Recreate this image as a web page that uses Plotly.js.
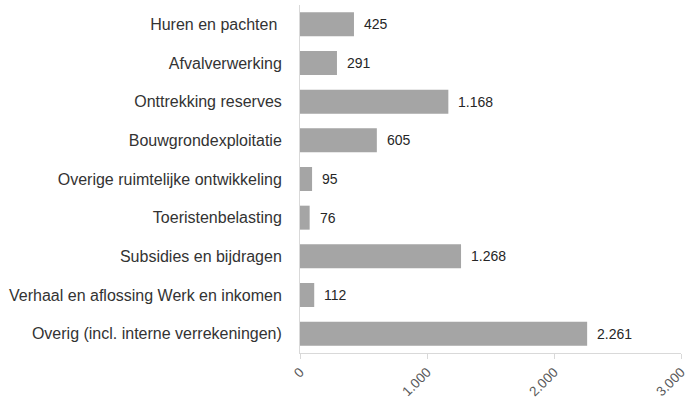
<!DOCTYPE html>
<html>
<head>
<meta charset="utf-8">
<script src="https://cdn.plot.ly/plotly-3.0.1.min.js"></script>
<style>html,body{margin:0;padding:0;background:#fff;}#chart{width:691px;height:403px;}</style>
</head>
<body>
<div id="chart"></div>
<script>
var categories = [
  "Huren en pachten\u00a0",
  "Afvalverwerking",
  "Onttrekking reserves",
  "Bouwgrondexploitatie",
  "Overige ruimtelijke ontwikkeling",
  "Toeristenbelasting",
  "Subsidies en bijdragen",
  "Verhaal en aflossing Werk en inkomen",
  "Overig (incl. interne verrekeningen)"
];
var values = [425, 291, 1168, 605, 95, 76, 1268, 112, 2261];
var tickValues = [0, 1000, 2000, 3000];
var tickLabels = ["0", "1.000", "2.000", "3.000"];

var fontFam = "Liberation Sans, Arial, sans-serif";

var trace = {
  type: "bar",
  orientation: "h",
  y: categories,
  x: values,
  marker: {color: "#a5a5a5"},
  hoverinfo: "none"
};

var annotations = values.map(function (v, i) {
  return {
    x: v, y: categories[i], xref: "x", yref: "y",
    text: v.toLocaleString("nl-NL"),
    showarrow: false, xanchor: "left", xshift: 8,
    font: {family: fontFam, size: 14, color: "#262626"}
  };
});

var layout = {
  width: 691, height: 403,
  margin: {l: 300, r: 10, t: 5, b: 50},
  paper_bgcolor: "#ffffff", plot_bgcolor: "#ffffff",
  showlegend: false,
  bargap: 0.38,
  xaxis: {
    range: [0, 3000],
    tickvals: tickValues, ticktext: tickLabels,
    tickangle: -45,
    showgrid: false, zeroline: false,
    showline: true, linecolor: "#d9d9d9", linewidth: 1,
    ticks: "outside", ticklen: 5, tickcolor: "#d9d9d9",
    tickfont: {family: fontFam, size: 13.5, color: "#595959"},
    fixedrange: true
  },
  yaxis: {
    autorange: "reversed",
    showgrid: false, zeroline: false,
    showline: true, linecolor: "#d9d9d9", linewidth: 1,
    ticks: "", ticklabelstandoff: 14,
    tickfont: {family: fontFam, size: 16, color: "#333333"},
    fixedrange: true
  },
  annotations: annotations
};

Plotly.newPlot("chart", [trace], layout, {displayModeBar: false, staticPlot: true});
</script>
</body>
</html>
